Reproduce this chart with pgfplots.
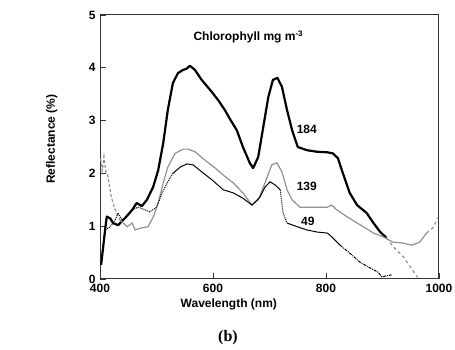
\documentclass[border=0pt]{standalone}
\usepackage{fontspec}
\setmainfont{Liberation Sans}
\newfontfamily\serifb{Liberation Serif}
\usepackage{pgfplots}
\pgfplotsset{compat=1.18}
\definecolor{curvegray}{RGB}{145,145,145}
\begin{document}
\begin{tikzpicture}[x=1pt,y=1pt]
\path[use as bounding box] (0,0) rectangle (455,350);
\begin{axis}[
  at={(100pt,71pt)}, anchor=south west,
  scale only axis, width=339pt, height=264pt,
  xmin=400, xmax=1000, ymin=0, ymax=5,
  xtick={400,600,800,1000}, ytick={0,1,2,3,4,5},
  tick align=inside, xtick pos=bottom, ytick pos=left,
  major tick length=6pt,
  axis line style={line width=1pt, black!80},
  tick style={line width=0.9pt, black!80},
  ticklabel style={font=\fontsize{12}{14}\selectfont\bfseries},
  xticklabel style={yshift=-2pt},
  yticklabel style={xshift=-1pt},
  /pgf/number format/assume math mode=true,
  /pgf/number format/1000 sep={},
  xlabel={Wavelength (nm)},
  ylabel={Reflectance (\%)},
  label style={font=\fontsize{12}{14}\selectfont\bfseries},
  xlabel style={at={(axis description cs:0.38,-0.098)}, anchor=center},
  ylabel style={at={(axis description cs:-0.142,0.53)}, anchor=center},
  clip=false,
]
% 184
\addplot[black, line width=2.2pt, line join=round] coordinates {
(402,0.27) (405,0.55) (409,0.93) (412,1.18) (418,1.15) (423,1.06) (432,1.02) (444,1.15)
(457,1.31) (465,1.44) (474,1.38) (483,1.50) (494,1.74) (503,2.06) (512,2.58) (520,3.20)
(529,3.71) (538,3.90) (547,3.96) (553,3.98) (559,4.04) (568,3.96) (580,3.77) (595,3.58)
(609,3.39) (621,3.20) (630,3.03) (642,2.82) (653,2.50) (665,2.20) (671,2.10) (680,2.31)
(689,2.88) (698,3.45) (706,3.77) (714,3.81) (722,3.64) (731,3.20) (740,2.82) (750,2.50)
(766,2.44) (784,2.41) (802,2.40) (812,2.38) (821,2.29) (830,2.00) (842,1.63) (855,1.40)
(872,1.25) (884,1.06) (896,0.89) (907,0.78)
};
\addplot[curvegray, line width=1.2pt, dashed] coordinates {
(907,0.78) (920,0.60) (937,0.42) (950,0.22) (962,0.03)
};
% 139
\addplot[curvegray, line width=1.2pt, densely dashed] coordinates {
(401,2.28) (404,2.05) (407,2.32) (410,2.05) (414,1.95) (420,1.55) (427,1.31) (435,1.12)
};
\addplot[curvegray, line width=1.2pt] coordinates {
(435,1.12) (448,0.99) (457,1.06) (462,0.93) (474,0.97) (485,0.99) (494,1.17) (503,1.44)
(512,1.82) (520,2.12) (533,2.38) (547,2.46) (556,2.46) (568,2.41) (586,2.25) (604,2.10)
(618,1.97) (636,1.82) (653,1.63) (669,1.40) (680,1.50) (692,1.82) (704,2.16) (713,2.20)
(722,2.03) (731,1.69) (740,1.50) (754,1.36) (772,1.36) (802,1.36) (810,1.40) (819,1.31)
(837,1.18) (855,1.06) (869,0.97) (884,0.87) (901,0.80) (918,0.70) (936,0.68) (952,0.64)
(966,0.70) (978,0.87)
};
\addplot[curvegray, line width=1.2pt, dashed] coordinates {
(978,0.87) (990,0.98) (998,1.16)
};
% 49
\addplot[black, line width=1pt, densely dotted] coordinates {
(403,0.45) (409,0.93) (418,0.99) (427,1.12) (432,1.25) (439,1.12) (448,1.18) (458,1.31)
(467,1.36) (480,1.31) (488,1.27) (500,1.36) (510,1.63) (519,1.82) (529,2.00)
};
\addplot[black, line width=1pt] coordinates {
(529,2.00) (542,2.12) (554,2.18) (565,2.16) (580,2.03) (598,1.88) (618,1.69) (636,1.63)
(653,1.53) (669,1.40) (683,1.55) (692,1.74) (701,1.84) (710,1.78) (719,1.69)
};
\addplot[black, line width=1pt, densely dotted] coordinates {
(719,1.69) (724,1.25) (731,1.06)
};
\addplot[black, line width=1pt] coordinates {
(731,1.06) (749,0.99) (766,0.93) (784,0.89) (802,0.87) (807,0.83) (825,0.64)
};
\addplot[black, line width=1pt, densely dashdotted] coordinates {
(825,0.64) (842,0.49) (860,0.32) (878,0.21) (892,0.13) (899,0.04) (907,0.06) (916,0.08)
};
\node[font=\fontsize{12}{14}\selectfont\bfseries] at (axis cs:766,2.84) {184};
\node[font=\fontsize{12}{14}\selectfont\bfseries] at (axis cs:766,1.76) {139};
\node[font=\fontsize{12}{14}\selectfont\bfseries] at (axis cs:768,1.10) {49};
\end{axis}
\node[anchor=base west, font=\fontsize{12}{14}\selectfont\bfseries] at (190,309) {Chlorophyll mg m\textsuperscript{-3}};
\node[font=\fontsize{16}{18}\selectfont\serifb\bfseries] at (228,12) {(b)};
\end{tikzpicture}
\end{document}
